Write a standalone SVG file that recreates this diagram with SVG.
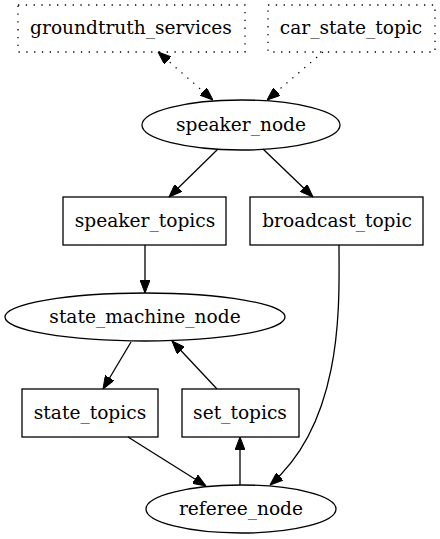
<svg xmlns="http://www.w3.org/2000/svg" width="440" height="539" viewBox="0 0 440 539">
<style>
.n{fill:none;stroke:#000;stroke-width:1.3}
.d{stroke-dasharray:1.3,6.5}
text{font-family:"DejaVu Serif",serif;font-size:18.6px;text-anchor:middle;fill:#000}
.e{fill:none;stroke:#000;stroke-width:1.3}
</style>
<defs>
<marker id="a" viewBox="0 0 13 10" refX="13" refY="5" markerWidth="13" markerHeight="10" markerUnits="userSpaceOnUse" orient="auto-start-reverse">
<path d="M0,0L13,5L0,10z" fill="#000" stroke="#000" stroke-width="1"/>
</marker>
</defs>
<rect width="440" height="539" fill="#fff"/>
<g id="edges">
<path class="e d" d="M158,52L213,100" marker-start="url(#a)" marker-end="url(#a)"/>
<path class="e d" d="M323,52L267,100" marker-end="url(#a)"/>
<path class="e" d="M218,149L169,197" marker-end="url(#a)"/>
<path class="e" d="M263,149L313,197" marker-end="url(#a)"/>
<path class="e" d="M145,245L145,293" marker-end="url(#a)"/>
<path class="e" d="M339,245C339,300 345,420 270,485" marker-end="url(#a)"/>
<path class="e" d="M131,342L103,389" marker-end="url(#a)"/>
<path class="e" d="M217,389L172,341" marker-end="url(#a)"/>
<path class="e" d="M128,437L206,486" marker-end="url(#a)"/>
<path class="e" d="M240,485L240,437" marker-end="url(#a)"/>
</g>
<g id="groundtruth_services"><rect class="n d" x="18" y="5" width="227" height="47"/><text x="131" y="34">groundtruth_services</text></g>
<g id="car_state_topic"><rect class="n d" x="268" y="5" width="167" height="47"/><text x="351" y="34">car_state_topic</text></g>
<g id="speaker_node"><ellipse class="n" cx="241" cy="125" rx="99" ry="25"/><text x="241" y="131">speaker_node</text></g>
<g id="speaker_topics"><rect class="n" x="63" y="197" width="163" height="48"/><text x="145" y="227">speaker_topics</text></g>
<g id="broadcast_topic"><rect class="n" x="250" y="197" width="173" height="48"/><text x="337" y="227">broadcast_topic</text></g>
<g id="state_machine_node"><ellipse class="n" cx="145" cy="317" rx="140" ry="24"/><text x="145" y="323">state_machine_node</text></g>
<g id="state_topics"><rect class="n" x="22" y="389" width="136" height="48"/><text x="90" y="419">state_topics</text></g>
<g id="set_topics"><rect class="n" x="182" y="389" width="117" height="48"/><text x="240" y="419">set_topics</text></g>
<g id="referee_node"><ellipse class="n" cx="241" cy="509" rx="95" ry="24"/><text x="241" y="515">referee_node</text></g>
</svg>
